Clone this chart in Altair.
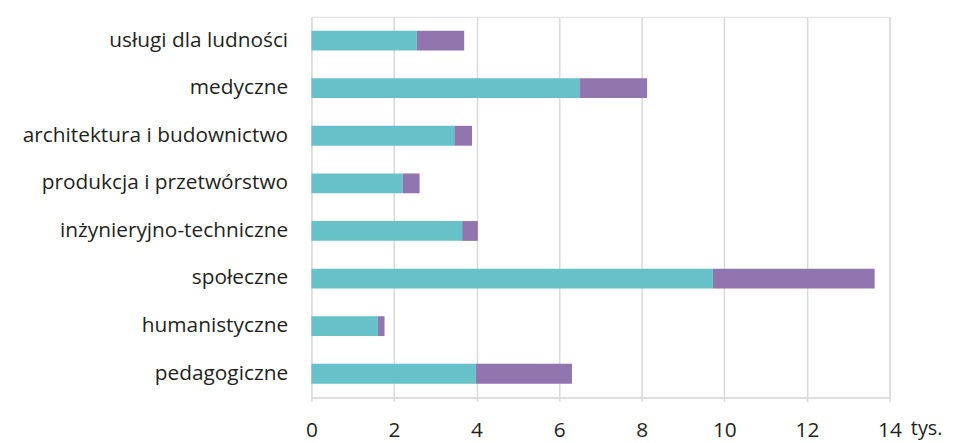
import altair as alt
import pandas as pd

categories = ["usługi dla ludności", "medyczne", "architektura i budownictwo",
              "produkcja i przetwórstwo", "inżynieryjno-techniczne", "społeczne",
              "humanistyczne", "pedagogiczne"]
teal_vals = [2.55, 6.49, 3.46, 2.21, 3.65, 9.72, 1.61, 3.98]
purple_vals = [1.15, 1.64, 0.43, 0.41, 0.38, 3.92, 0.16, 2.33]
series = ["seria 1", "seria 2"]
colors = ["#66c2c8", "#9175ae"]
x_ticks = [0, 2, 4, 6, 8, 10, 12, 14]

rows = []
for c, t, p in zip(categories, teal_vals, purple_vals):
    rows.append({"kat": c, "seria": series[0], "v": t, "ord": 0})
    rows.append({"kat": c, "seria": series[1], "v": p, "ord": 1})
df = pd.DataFrame(rows)

FONT = "Open Sans"
TXT = "#231f20"
FS = 21

chart = alt.Chart(df).mark_bar(size=20).encode(
    y=alt.Y("kat:N", sort=categories,
            scale=alt.Scale(paddingInner=0, paddingOuter=0),
            axis=alt.Axis(title=None, domain=False, ticks=False, labelPadding=24,
                          labelFontSize=FS, labelColor=TXT, labelFont=FONT,
                          labelLimit=400, grid=False)),
    x=alt.X("v:Q", stack="zero",
            scale=alt.Scale(domain=[0, 14], nice=False),
            axis=alt.Axis(values=x_ticks, title="tys.", titleFont=FONT, titleFontSize=20,
                          titleFontWeight="normal", titleColor=TXT,
                          titleAlign="left", titleBaseline="alphabetic", titleAnchor="start",
                          titleX=604, titleY=37,
                          labelFont=FONT, labelFontSize=FS, labelColor=TXT, labelPadding=18,
                          labelFlush=False, labelOverlap=False,
                          domainColor="#d9d9d9", domainWidth=1.5,
                          tickColor="#d9d9d9", tickSize=4, tickWidth=1.5,
                          gridColor="#d9d9d9", gridWidth=1.5)),
    color=alt.Color("seria:N", scale=alt.Scale(domain=series, range=colors), legend=None),
    order=alt.Order("ord:Q"),
).properties(
    width=583, height=384,
    autosize=alt.AutoSizeParams(type="none"),
    padding={"left": 306, "top": 7, "right": 58, "bottom": 44},
).configure_view(stroke=None).configure(background="white")

chart.save("out.html", embed_options={"renderer": "svg", "actions": False})
